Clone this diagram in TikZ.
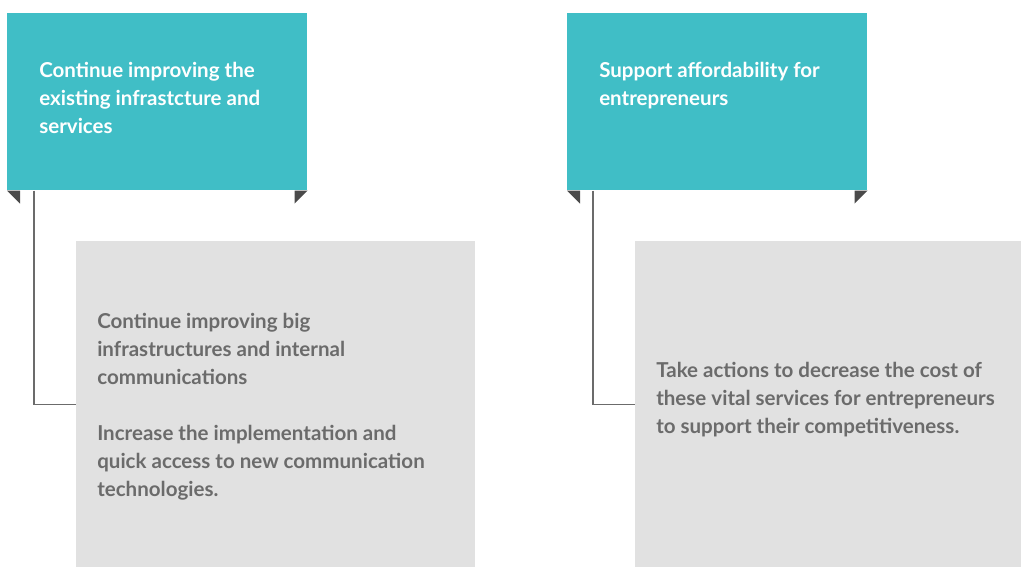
\documentclass[tikz,border=0pt]{standalone}
\usepackage{fontspec}
\setmainfont{Lato}
\usetikzlibrary{positioning}

\definecolor{teal}{HTML}{40BEC6}
\definecolor{panel}{HTML}{E1E1E1}
\definecolor{ink}{HTML}{6B6B6B}
\definecolor{fold}{HTML}{4A4A4A}

\tikzset{
    header/.style={fill=teal, draw=none, anchor=north west, minimum width=225pt, minimum height=132.75pt, inner sep=0pt},
    panelbox/.style={fill=panel, draw=none, anchor=north west, minimum height=244.5pt, inner sep=0pt},
    headtext/.style={anchor=north west, align=left, text=white, font=\bfseries\fontsize{15.4}{21}\selectfont, inner sep=0pt},
    bodytext/.style={anchor=west, align=left, text=ink, font=\bfseries\fontsize{15.4}{21}\selectfont, inner sep=0pt},
    link/.style={draw=ink, line width=0.8pt},
}

\begin{document}
\begin{tikzpicture}[x=0.75pt, y=-0.75pt]
    \useasboundingbox (0,0) rectangle (1021,567);
    % headers
    \node[header] (hdrA) at (7,13) {};
    \node[header] (hdrB) at (567,13) {};
    \node[headtext] (hdrAtext) at (39,62) {Continue improving the\\existing infrastcture and\\services};
    \node[headtext] (hdrBtext) at (599,62) {Support affordability for\\entrepreneurs};
    % folded corners
    \fill[fold] (hdrA.south west) -- ++(13,0) -- ++(0,13) -- cycle;
    \fill[fold] (hdrA.south east) -- ++(-13,0) -- ++(0,13) -- cycle;
    \fill[fold] (hdrB.south west) -- ++(13,0) -- ++(0,13) -- cycle;
    \fill[fold] (hdrB.south east) -- ++(-13,0) -- ++(0,13) -- cycle;
    % panels
    \node[panelbox, minimum width=299.25pt] (itemA) at (76,241) {};
    \node[panelbox, minimum width=289.5pt] (itemB) at (635,241) {};
    \node[bodytext] (itemAtext) at (97,407) {Continue improving big\\infrastructures and internal\\communications\\[21pt]Increase the implementation and\\quick access to new communication\\technologies.};
    \node[bodytext] (itemBtext) at (656,400) {Take actions to decrease the cost of\\these vital services for entrepreneurs\\to support their competitiveness.};
    % connectors
    \coordinate (footA) at ([xshift=20.25pt]hdrA.south west);
    \coordinate (footB) at ([xshift=19.5pt]hdrB.south west);
    \draw[link] (footA) |- (itemA.west);
    \draw[link] (footB) |- (itemB.west);
\end{tikzpicture}
\end{document}
